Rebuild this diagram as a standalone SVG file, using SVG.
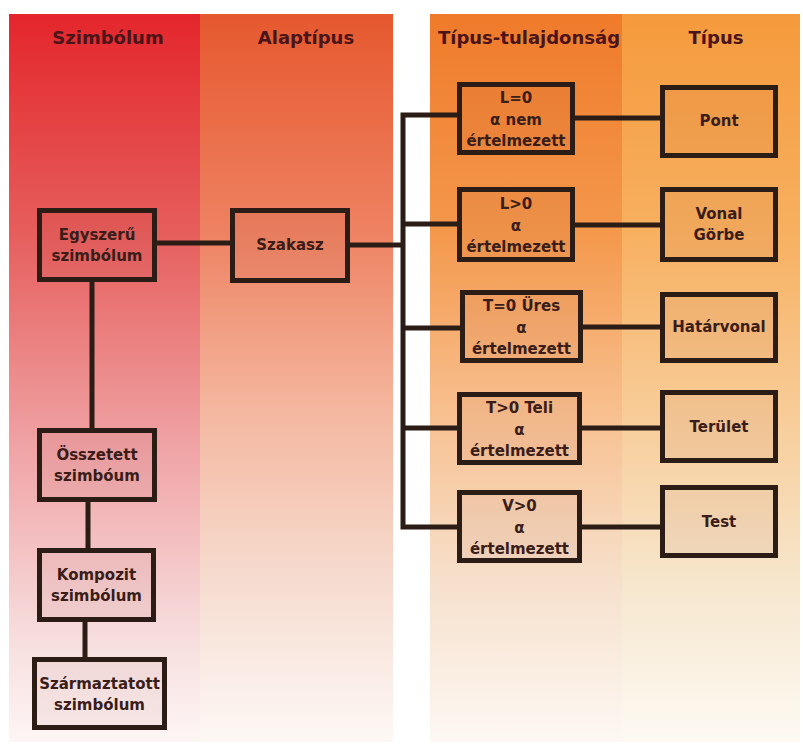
<svg xmlns="http://www.w3.org/2000/svg" width="803" height="749" viewBox="0 0 803 749">
<defs>
<linearGradient id="g1" x1="0" y1="0" x2="0" y2="1">
<stop offset="0" stop-color="#e4262c"/><stop offset="0.3" stop-color="#e65e5c"/><stop offset="0.6" stop-color="#f0a4a6"/><stop offset="0.85" stop-color="#f7dcdc"/><stop offset="1" stop-color="#fdf6f5"/>
</linearGradient>
<linearGradient id="g2" x1="0" y1="0" x2="0" y2="1">
<stop offset="0" stop-color="#e6582e"/><stop offset="0.3" stop-color="#ee8262"/><stop offset="0.55" stop-color="#f4b8a0"/><stop offset="0.78" stop-color="#f6dcd0"/><stop offset="1" stop-color="#fdf8f5"/>
</linearGradient>
<linearGradient id="g3" x1="0" y1="0" x2="0" y2="1">
<stop offset="0" stop-color="#ef7a2a"/><stop offset="0.3" stop-color="#f4984c"/><stop offset="0.55" stop-color="#f8c090"/><stop offset="0.78" stop-color="#f6e0cc"/><stop offset="1" stop-color="#fdf8f3"/>
</linearGradient>
<linearGradient id="g4" x1="0" y1="0" x2="0" y2="1">
<stop offset="0" stop-color="#f59a3c"/><stop offset="0.3" stop-color="#f7b060"/><stop offset="0.55" stop-color="#f8cc98"/><stop offset="0.78" stop-color="#f6e6cc"/><stop offset="1" stop-color="#fdfaf4"/>
</linearGradient>
<style>
.box{fill:#7a1a10;fill-opacity:0.05;stroke:#2b1c16;stroke-width:5}
.ln{fill:none;stroke:#2b1c16;stroke-width:5}
.t{font-family:"DejaVu Sans","Liberation Sans",sans-serif;font-weight:bold;font-size:15px;fill:#3a1c18;text-anchor:middle}
.h{font-family:"DejaVu Sans","Liberation Sans",sans-serif;font-weight:bold;font-size:18px;fill:#4a1418;text-anchor:middle}
</style>
</defs>
<g id="background">
<rect x="0" y="0" width="803" height="749" fill="#ffffff"/>
<rect x="9" y="14" width="191" height="728" fill="url(#g1)"/>
<rect x="200" y="14" width="193" height="728" fill="url(#g2)"/>
<rect x="430" y="14" width="192" height="728" fill="url(#g3)"/>
<rect x="622" y="14" width="178" height="728" fill="url(#g4)"/>
<text class="h" x="108" y="44">Szimbólum</text>
<text class="h" x="306" y="44">Alaptípus</text>
<text class="h" x="529" y="44">Típus-tulajdonság</text>
<text class="h" x="716" y="44">Típus</text>
</g>
<g id="connectors">
<line class="ln" x1="157" y1="243" x2="230" y2="243"/>
<line class="ln" x1="350" y1="245" x2="403" y2="245"/>
<path class="ln" d="M459 115 H403 V527 H459"/>
<line class="ln" x1="403" y1="224" x2="459" y2="224"/>
<line class="ln" x1="403" y1="328" x2="462" y2="328"/>
<line class="ln" x1="403" y1="428" x2="459" y2="428"/>
<line class="ln" x1="575" y1="118" x2="660" y2="118"/>
<line class="ln" x1="575" y1="225" x2="660" y2="225"/>
<line class="ln" x1="583" y1="327" x2="660" y2="327"/>
<line class="ln" x1="582" y1="428" x2="660" y2="428"/>
<line class="ln" x1="582" y1="527" x2="660" y2="527"/>
<line class="ln" x1="92" y1="282" x2="92" y2="428"/>
<line class="ln" x1="88" y1="502" x2="88" y2="548"/>
<line class="ln" x1="85" y1="622" x2="85" y2="657"/>
</g>
<g id="egyszeru">
<rect class="box" x="39.5" y="210.5" width="115" height="69"/>
<text class="t" x="97" y="240">Egyszerű</text>
<text class="t" x="97" y="261">szimbólum</text>
</g>
<g id="osszetett">
<rect class="box" x="39.5" y="430.5" width="115" height="69"/>
<text class="t" x="97" y="460">Összetett</text>
<text class="t" x="97" y="481">szimbóum</text>
</g>
<g id="kompozit">
<rect class="box" x="39.5" y="550.5" width="114" height="69"/>
<text class="t" x="96.5" y="580">Kompozit</text>
<text class="t" x="96.5" y="601">szimbólum</text>
</g>
<g id="szarmaztatott">
<rect class="box" x="34.5" y="659.5" width="130" height="68"/>
<text class="t" x="99.5" y="689">Származtatott</text>
<text class="t" x="99.5" y="710">szimbólum</text>
</g>
<g id="szakasz">
<rect class="box" x="232.5" y="210.5" width="115" height="70"/>
<text class="t" x="290" y="250">Szakasz</text>
</g>
<g id="l0">
<rect class="box" x="459.5" y="84.5" width="113" height="68"/>
<text class="t" x="516" y="103">L=0</text>
<text class="t" x="516" y="125">α nem</text>
<text class="t" x="516" y="146">értelmezett</text>
</g>
<g id="lg0">
<rect class="box" x="459.5" y="189.5" width="113" height="70"/>
<text class="t" x="516" y="209">L&gt;0</text>
<text class="t" x="516" y="231">α</text>
<text class="t" x="516" y="252">értelmezett</text>
</g>
<g id="t0">
<rect class="box" x="462.5" y="292.5" width="118" height="68"/>
<text class="t" x="521.5" y="311">T=0 Üres</text>
<text class="t" x="521.5" y="333">α</text>
<text class="t" x="521.5" y="354">értelmezett</text>
</g>
<g id="tg0">
<rect class="box" x="459.5" y="394.5" width="120" height="68"/>
<text class="t" x="519.5" y="413">T&gt;0 Teli</text>
<text class="t" x="519.5" y="435">α</text>
<text class="t" x="519.5" y="456">értelmezett</text>
</g>
<g id="vg0">
<rect class="box" x="459.5" y="492.5" width="120" height="68"/>
<text class="t" x="519.5" y="511">V&gt;0</text>
<text class="t" x="519.5" y="533">α</text>
<text class="t" x="519.5" y="554">értelmezett</text>
</g>
<g id="pont">
<rect class="box" x="662.5" y="87.5" width="113" height="68"/>
<text class="t" x="719" y="126">Pont</text>
</g>
<g id="vonal">
<rect class="box" x="662.5" y="189.5" width="113" height="70"/>
<text class="t" x="719" y="219">Vonal</text>
<text class="t" x="719" y="240">Görbe</text>
</g>
<g id="hatarvonal">
<rect class="box" x="662.5" y="294.5" width="113" height="66"/>
<text class="t" x="719" y="332">Határvonal</text>
</g>
<g id="terulet">
<rect class="box" x="662.5" y="392.5" width="113" height="68"/>
<text class="t" x="719" y="432">Terület</text>
</g>
<g id="test">
<rect class="box" x="662.5" y="487.5" width="113" height="68"/>
<text class="t" x="719" y="527">Test</text>
</g>
</svg>
